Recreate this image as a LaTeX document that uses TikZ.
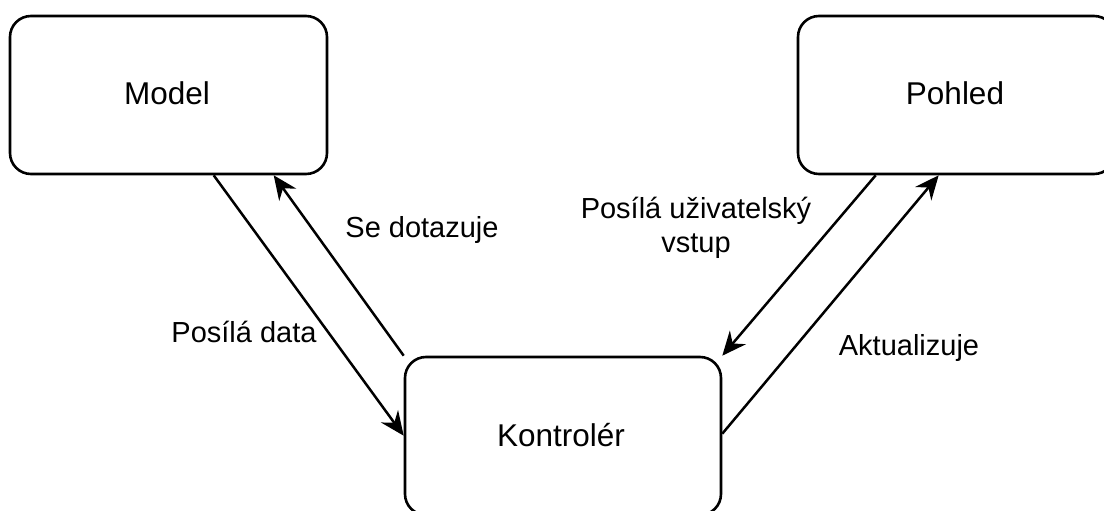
\documentclass[tikz,border=0pt]{standalone}
\usepackage{fontspec}
\setmainfont{Liberation Sans}
\usetikzlibrary{arrows.meta}

\tikzset{
  unitbox/.style={draw, line width=2.6pt, rounded corners=21pt,
    minimum width=317pt, minimum height=158pt, inner sep=0pt},
  boxtext/.style={anchor=base, inner sep=0pt, font=\fontsize{31.5}{36}\selectfont},
  flow/.style={line width=2.5pt, -{Stealth[length=24pt,width=21pt,inset=8pt]}},
  caption/.style={anchor=base, inner sep=0pt, align=center,
    font=\fontsize{29}{34}\selectfont}
}

\begin{document}
\begin{tikzpicture}[x=1pt, y=-1pt]
  \useasboundingbox (0,0) rectangle (1104,511);

  % the three parts of the architecture
  \node[unitbox] (model) at (168.5,95) {};
  \node[boxtext] (modeltxt) at (167,104) {Model};
  \node[unitbox] (view) at (956.5,95) {};
  \node[boxtext] (viewtxt) at (955,104) {Pohled};
  \node[unitbox, minimum width=316pt] (ctrl) at (563,436) {};
  \node[boxtext] (ctrltxt) at (561,446) {Kontrolér};

  % attachment points on the box edges
  \coordinate (mOut) at ([xshift=205pt]model.south west);
  \coordinate (mIn)  at ([xshift=265pt]model.south west);
  \coordinate (vOut) at ([xshift=79pt]view.south west);
  \coordinate (vIn)  at ([xshift=142pt]view.south west);
  \coordinate (cInL) at ([yshift=-80pt]ctrl.north west);
  \coordinate (cOutR) at ([yshift=-78pt]ctrl.north east);

  % message flows
  \draw[flow] (mOut) -- (cInL);
  \draw[flow] (ctrl.north west) -- (mIn);
  \draw[flow] (vOut) -- (ctrl.north east);
  \draw[flow] (cOutR) -- (vIn);

  % flow labels
  \node[caption] (lquery) at (422,237) {Se dotazuje};
  \node[caption] (ldata) at (244,342) {Posílá data};
  \node[caption] (linput) at (696,252) {Posílá uživatelský\\vstup};
  \node[caption] (lupdate) at (909,355) {Aktualizuje};
\end{tikzpicture}
\end{document}
